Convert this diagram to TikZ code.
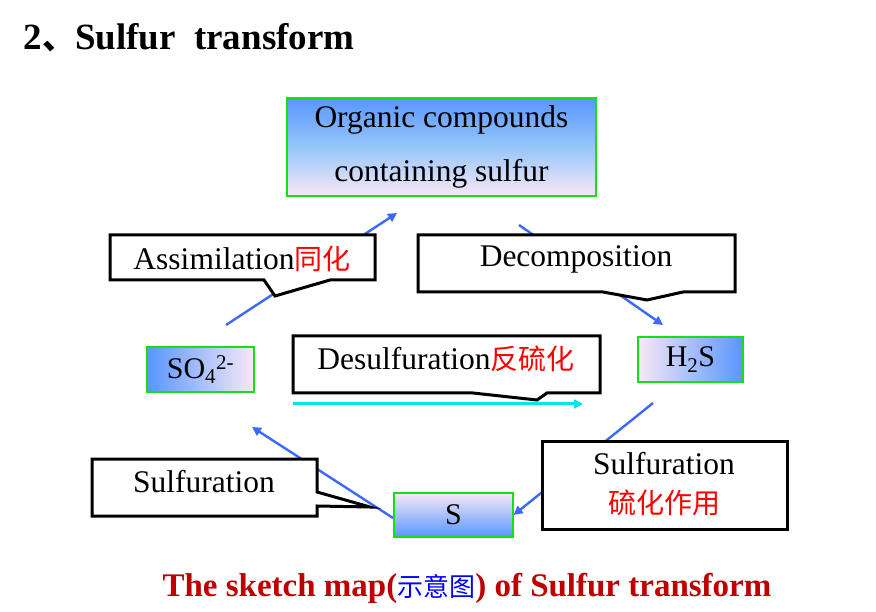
\documentclass[tikz,border=0pt]{standalone}
\usepackage{fontspec}
\setmainfont{Liberation Serif}
\newfontfamily\cjk{Noto Sans CJK SC}
\usetikzlibrary{arrows.meta}
\definecolor{gradblue}{RGB}{88,150,255}
\definecolor{gradmid}{RGB}{150,198,250}
\definecolor{gradpink}{RGB}{248,232,246}
\definecolor{boxgreen}{RGB}{20,225,20}
\definecolor{arrowblue}{RGB}{60,105,250}
\definecolor{arrowcyan}{RGB}{0,228,238}
\definecolor{capred}{RGB}{190,0,0}
\tikzset{
  greenbox/.style={draw=boxgreen, line width=1.2pt, inner sep=0pt},
  callbox/.style={fill=white, draw=black, line width=3pt, line join=miter},
  calltext/.style={font=\fontsize{31.5}{36}\selectfont},
  zh/.style={font=\cjk\fontsize{28}{30}\selectfont, text=red},
  flow/.style={draw=arrowblue, line width=2.4pt, -{Triangle[length=9pt,width=9pt]}},
  flowcyan/.style={draw=arrowcyan, line width=3pt, -{Triangle[length=9pt,width=9pt]}},
}

\begin{document}
\begin{tikzpicture}[x=1pt,y=-1pt]
\useasboundingbox (0,0) rectangle (876,612);
\node[anchor=west, font=\bfseries\fontsize{37}{42}\selectfont] (title) at (20,38) {2{\cjk\fontsize{33}{36}\selectfont 、}Sulfur\ \ transform};
\node[greenbox, top color=gradblue, bottom color=gradpink, middle color=gradmid, minimum width=309pt, minimum height=98pt, align=center, font=\fontsize{31.5}{54}\selectfont] (organic) at (441.5,147) {Organic compounds\\containing sulfur};
\node[greenbox, left color=gradblue, right color=gradpink, minimum width=107pt, minimum height=45pt, font=\fontsize{30}{34}\selectfont] (sulfate) at (200.5,369.5) {SO\textsubscript{4}\textsuperscript{2-}};
\node[greenbox, left color=gradpink, right color=gradblue, minimum width=105pt, minimum height=45pt, font=\fontsize{30}{34}\selectfont] (hydrogen) at (690.5,359.5) {H\textsubscript{2}S};
\node[greenbox, top color=gradpink, bottom color=gradblue, minimum width=119pt, minimum height=44pt, font=\fontsize{30}{34}\selectfont] (sulfur) at (453.5,515) {S};
\coordinate (assimfrom) at (226,325);
\coordinate (assimto) at (397,213);
\coordinate (decompfrom) at (519,225);
\coordinate (decompto) at (663,325);
\coordinate (desulffrom) at (293,404);
\coordinate (desulfto) at (583,404);
\coordinate (oxfrom) at (393,518);
\coordinate (oxto) at (252,427);
\coordinate (redfrom) at (653,403);
\draw[flow] (assimfrom) -- (assimto);
\draw[flow] (decompfrom) -- (decompto);
\draw[flowcyan] (desulffrom) -- (desulfto);
\draw[flow] (oxfrom) -- (oxto);
\draw[flow] (redfrom) -- (sulfur.east);
\draw[callbox] (110,235) -- (375,235) -- (375,280) -- (330,280) -- (275,296) -- (264,280) -- (110,280) -- cycle;
\node[calltext] (assim) at (242,259) {Assimilation{\cjk\fontsize{28}{30}\selectfont\color{red}同化}};
\draw[callbox] (418,235) -- (735,235) -- (735,292) -- (683,292) -- (647,300) -- (603,292) -- (418,292) -- cycle;
\node[calltext] (decomp) at (576,259) {Decomposition};
\draw[callbox] (293,336) -- (600,336) -- (600,393) -- (547,393) -- (537,400) -- (473,393) -- (293,393) -- cycle;
\node[calltext] (desulf) at (446,359) {Desulfuration{\cjk\fontsize{28}{30}\selectfont\color{red}反硫化}};
\draw[callbox] (92,459) -- (317,459) -- (317,492) -- (370,507) -- (317,506) -- (317,516) -- (92,516) -- cycle;
\node[calltext] (oxleft) at (204,482) {Sulfuration};
\draw[callbox] (542,441) rectangle (787,529);
\node[calltext] (oxright) at (664,464) {Sulfuration};
\node[zh] (oxrightzh) at (664,503) {硫化作用};
\node[font=\bfseries\fontsize{33}{38}\selectfont, text=capred] (caption) at (467,588) {The sketch map({\cjk\mdseries\fontsize{26}{28}\selectfont\color{blue}示意图}) of Sulfur transform};
\end{tikzpicture}
\end{document}
